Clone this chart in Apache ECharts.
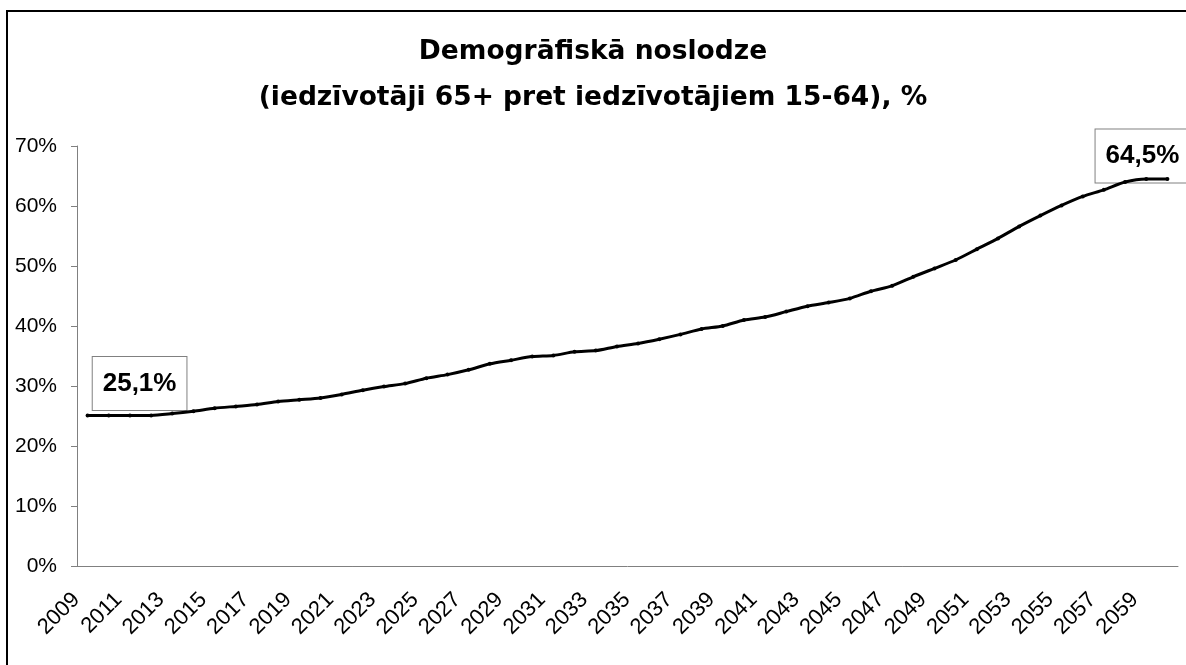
<!DOCTYPE html>
<html>
<head>
<meta charset="utf-8">
<script src="https://cdn.jsdelivr.net/npm/echarts@6/dist/echarts.min.js"></script>
<style>
  html, body { margin: 0; padding: 0; background: #fff; }
  #chart { width: 1186px; height: 665px; }
</style>
</head>
<body>
<div id="chart"></div>
<script>
// years 2009..2060
const years = ['2009', '2010', '2011', '2012', '2013', '2014', '2015', '2016', '2017', '2018',
  '2019', '2020', '2021', '2022', '2023', '2024', '2025', '2026', '2027', '2028',
  '2029', '2030', '2031', '2032', '2033', '2034', '2035', '2036', '2037', '2038',
  '2039', '2040', '2041', '2042', '2043', '2044', '2045', '2046', '2047', '2048',
  '2049', '2050', '2051', '2052', '2053', '2054', '2055', '2056', '2057', '2058',
  '2059', '2060']
// dependency ratio, %
const ratio = [25.1, 25.1, 25.1, 25.1, 25.4, 25.8, 26.3, 26.6, 26.9, 27.4,
  27.7, 28.0, 28.6, 29.3, 29.9, 30.4, 31.3, 31.9, 32.7, 33.7,
  34.3, 34.9, 35.1, 35.7, 35.9, 36.6, 37.1, 37.8, 38.6, 39.5,
  40.0, 41.0, 41.5, 42.4, 43.3, 43.9, 44.6, 45.8, 46.7, 48.2,
  49.6, 51.0, 52.8, 54.6, 56.6, 58.4, 60.1, 61.6, 62.7, 64.0,
  64.5, 64.5]
const labelled = { 0: '25,1%', 51: '64,5%' }
const labelOffset = { 0: [52, -32], 51: [-25, -23] }

const font = 'Arial, "Liberation Sans", sans-serif'

const myChart = echarts.init(document.getElementById('chart'))

// value boxes sit on their own series, drawn below the line
const boxData = ratio.map(function (v, i) {
  if (labelled[i] === undefined) return '-'
  return {
    value: v,
    label: {
      show: true,
      position: 'inside',
      offset: labelOffset[i],
      formatter: labelled[i],
      fontFamily: font,
      fontSize: 26,
      fontWeight: 'bold',
      color: '#000',
      backgroundColor: '#fff',
      borderColor: '#808080',
      borderWidth: 1,
      padding: [14, 10, 13, 10]
    }
  }
})

myChart.setOption({
  animation: false,
  backgroundColor: '#fff',
  title: {
    text: 'Demogrāfiskā noslodze\n(iedzīvotāji 65+ pret iedzīvotājiem 15-64), %',
    left: 'center',
    top: 24,
    textStyle: {
      fontFamily: '"DejaVu Sans", Arial, sans-serif',
      fontSize: 26.5,
      fontWeight: 'bold',
      color: '#000',
      lineHeight: 46
    }
  },
  graphic: [{
    type: 'rect',
    shape: { x: 7, y: 11, width: 1300, height: 1000 },
    style: { fill: 'none', stroke: '#000', lineWidth: 2 },
    silent: true
  }],
  grid: {
    left: 77,
    top: 146,
    width: 1101,
    height: 420
  },
  xAxis: {
    type: 'category',
    data: years,
    boundaryGap: true,
    axisLine: { lineStyle: { color: '#808080', width: 1 } },
    axisTick: { interval: 0, length: 7, lineStyle: { color: '#000' } },
    axisLabel: {
      interval: 1,
      rotate: 45,
      margin: 19,
      padding: [0, 16, 0, 0],
      fontFamily: font,
      fontSize: 22,
      color: '#000'
    }
  },
  yAxis: {
    type: 'value',
    min: 0,
    max: 70,
    interval: 10,
    splitLine: { show: false },
    axisLine: { show: true, lineStyle: { color: '#808080', width: 1 } },
    axisTick: { show: true, length: 6, lineStyle: { color: '#808080' } },
    axisLabel: {
      formatter: '{value}%',
      margin: 20,
      fontFamily: font,
      fontSize: 21,
      color: '#000'
    }
  },
  series: [{
    type: 'scatter',
    z: 1,
    data: boxData,
    symbolSize: 1,
    itemStyle: { color: 'rgba(0,0,0,0)', opacity: 1 },
    silent: true
  }, {
    type: 'line',
    z: 5,
    data: ratio,
    smooth: 0.25,
    symbol: 'circle',
    symbolSize: 4,
    itemStyle: { color: '#000' },
    lineStyle: { color: '#000', width: 3 }
  }]
})
</script>
</body>
</html>
